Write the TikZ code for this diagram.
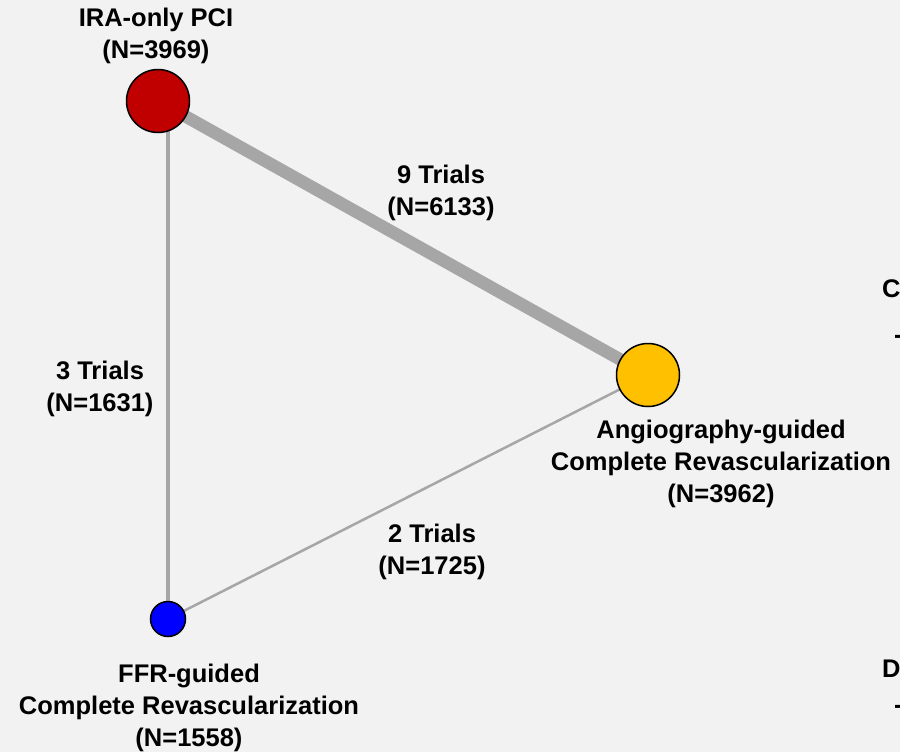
\documentclass[tikz,border=0pt]{standalone}
\usepackage{fontspec}
\setmainfont{Liberation Sans}
\usetikzlibrary{backgrounds}
\definecolor{bg}{HTML}{F2F2F2}
\definecolor{ira}{HTML}{C00000}
\definecolor{angio}{HTML}{FFC000}
\definecolor{ffr}{HTML}{0000FF}
\definecolor{edgegray}{HTML}{A6A6A6}
\begin{document}
\begin{tikzpicture}[x=1pt,y=-1pt,
  trt/.style={circle,draw=black,line width=1.5pt,inner sep=0pt},
  lab/.style={align=center,font=\bfseries\fontsize{25.5}{32}\selectfont,inner sep=0pt},
  link/.style={draw=edgegray}]
\useasboundingbox (0,0) rectangle (900,752);
\node[trt,fill=ira,minimum size=63pt] (ira) at (158,101) {};
\node[trt,fill=angio,minimum size=63pt] (angio) at (648,375) {};
\node[trt,fill=ffr,minimum size=35pt] (ffr) at (168,619) {};
\coordinate (iratop) at (168,101);
\begin{scope}[on background layer]
\fill[bg] (0,0) rectangle (900,752);
\draw[link,line width=12.5pt] (ira.center) -- (angio.center);
\draw[link,line width=4pt] (iratop) -- (ffr.center);
\draw[link,line width=2.5pt] (ffr.center) -- (angio.center);
\end{scope}
\node[lab] (liral) at (156,36) {IRA-only PCI\\(N=3969)};
\node[lab] (langio) at (721,464) {Angiography-guided\\Complete Revascularization\\(N=3962)};
\node[lab] (lffr) at (189,708) {FFR-guided\\Complete Revascularization\\(N=1558)};
\node[lab] (e1) at (441,193) {9 Trials\\(N=6133)};
\node[lab] (e2) at (100,389) {3 Trials\\(N=1631)};
\node[lab] (e3) at (432,552) {2 Trials\\(N=1725)};
\node[lab,anchor=west] (pc) at (882,289) {C};
\node[lab,anchor=west] (pcd) at (894,339) {-};
\node[lab,anchor=west] (pd) at (882,669) {D};
\node[lab,anchor=west] (pdd) at (894,709) {-};
\end{tikzpicture}
\end{document}
